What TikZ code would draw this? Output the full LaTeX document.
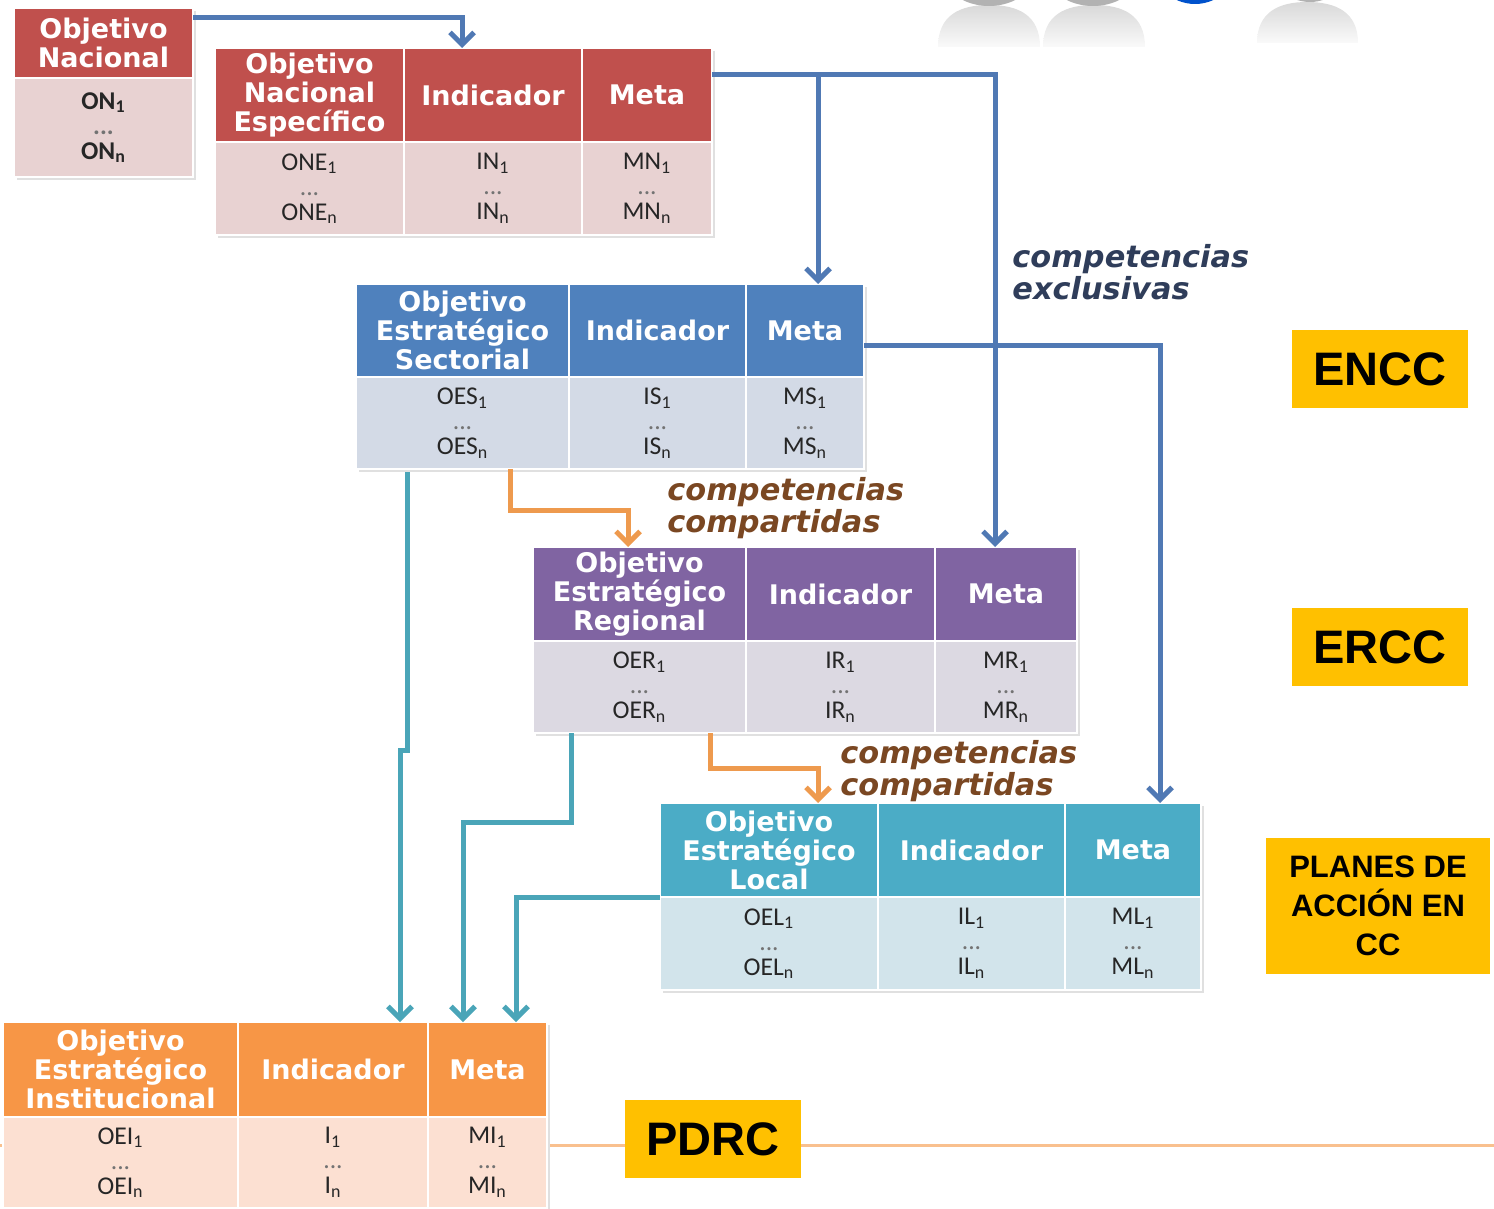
\documentclass[tikz,border=0pt]{standalone}
\usepackage{fontspec}
\usetikzlibrary{arrows.meta,calc}
\newfontfamily\hdrfont{DejaVu Sans}
\newfontfamily\bodyfont{Carlito}
\newfontfamily\lblfont{Liberation Sans}
\definecolor{redH}{HTML}{C0504D}
\definecolor{redB}{HTML}{E8D2D2}
\definecolor{bluH}{HTML}{4F81BD}
\definecolor{bluB}{HTML}{D3DAE6}
\definecolor{purH}{HTML}{8064A2}
\definecolor{purB}{HTML}{DCD9E2}
\definecolor{teaH}{HTML}{4BACC6}
\definecolor{teaB}{HTML}{D2E4EB}
\definecolor{oraH}{HTML}{F79646}
\definecolor{oraB}{HTML}{FCE0D2}
\definecolor{yel}{HTML}{FFC000}
\definecolor{cblue}{HTML}{5079B4}
\definecolor{cteal}{HTML}{4AA5B8}
\definecolor{corange}{HTML}{EE9A4E}
\definecolor{exclc}{HTML}{2F3D5A}
\definecolor{compc}{HTML}{7A4722}
\definecolor{pline}{HTML}{F9C08E}
\newcommand\tcell[7]{\node[#6, minimum width={(#4-#2)*0.5pt}, minimum height={(#5-#3)*0.5pt}] (#1) at ({(#2+#4)/2},{(#3+#5)/2}) {#7};}
\newcommand\tshadow[4]{\fill[black!12] ({#1+3},{#2+3}) rectangle ({#3+3},{#4+3});}
\newcommand\lst[1]{#1\textsubscript{1}\\{\color{black!55}...}\\#1\textsubscript{n}}
\tikzset{
  cellbase/.style={draw=white, line width=1pt, inner sep=0pt, outer sep=0pt, align=center},
  hdr/.style={cellbase, text=white, font={\hdrfont\bfseries\fontsize{13.5}{14.5}\selectfont}},
  bod/.style={cellbase, text=black!85, font={\bodyfont\fontsize{12.8}{12.5}\selectfont}},
  conn/.style={line width=2.5pt, -{Straight Barb[length=6pt,width=12pt]}},
  lbl/.style={fill=yel, inner sep=0pt, align=center, text=black},
  comp/.style={font={\hdrfont\bfseries\itshape\fontsize{15.2}{16}\selectfont}, align=left, anchor=west, inner sep=0pt}
}
\begin{document}
\begin{tikzpicture}[x=0.5pt,y=-0.5pt]
\useasboundingbox (0,0) rectangle (1494,1209);
% decorative silhouettes (top right)
\begin{scope}
\clip (0,0) rectangle (1494,1209);
\shade[top color=black!15, bottom color=black!2] (938,47) .. controls (938,15) and (960,5) .. (989,5) .. controls (1018,5) and (1040,15) .. (1040,47) -- cycle;
\shade[top color=black!15, bottom color=black!2] (1043,47) .. controls (1043,15) and (1065,5) .. (1094,5) .. controls (1123,5) and (1145,15) .. (1145,47) -- cycle;
\shade[top color=black!15, bottom color=black!2] (1257,43) .. controls (1257,12) and (1279,2) .. (1307,2) .. controls (1336,2) and (1358,12) .. (1358,43) -- cycle;
\fill[black!30] (989,-55) circle[radius=61];
\fill[black!30] (1093,-55) circle[radius=61];
\fill[blue!60!cyan!80!black] (1195,-40) circle[radius=44];
\fill[black!30] (1310,-40) circle[radius=42];
\end{scope}
% orange horizontal line
\draw[pline, line width=1.5pt] (0,1145) -- (1494,1145);
% shadows
\tshadow{14}{8}{193}{177}
\tshadow{215}{48}{712}{235}
\tshadow{356}{284}{864}{469}
\tshadow{533}{547}{1077}{733}
\tshadow{660}{803}{1201}{990}
\tshadow{3}{1022}{547}{1208}
% Objetivo Nacional
\tcell{onH}{14}{8}{193}{78}{hdr,fill=redH}{Objetivo\\Nacional}
\tcell{onB}{14}{78}{193}{177}{bod,fill=redB,font={\bodyfont\bfseries\fontsize{12.8}{12.5}\selectfont}}{\lst{ON}}
% ONE table
\tcell{neO}{215}{48}{404}{142}{hdr,fill=redH}{Objetivo\\Nacional\\Específico}
\tcell{neI}{404}{48}{582}{142}{hdr,fill=redH}{Indicador}
\tcell{neM}{582}{48}{712}{142}{hdr,fill=redH}{Meta}
\tcell{neOb}{215}{142}{404}{235}{bod,fill=redB}{\lst{ONE}}
\tcell{neIb}{404}{142}{582}{235}{bod,fill=redB}{\lst{IN}}
\tcell{neMb}{582}{142}{712}{235}{bod,fill=redB}{\lst{MN}}
% Sectorial
\tcell{sO}{356}{284}{569}{377}{hdr,fill=bluH}{Objetivo\\Estratégico\\Sectorial}
\tcell{sI}{569}{284}{746}{377}{hdr,fill=bluH}{Indicador}
\tcell{sM}{746}{284}{864}{377}{hdr,fill=bluH}{Meta}
\tcell{sOb}{356}{377}{569}{469}{bod,fill=bluB}{\lst{OES}}
\tcell{sIb}{569}{377}{746}{469}{bod,fill=bluB}{\lst{IS}}
\tcell{sMb}{746}{377}{864}{469}{bod,fill=bluB}{\lst{MS}}
% Regional
\tcell{rO}{533}{547}{746}{641}{hdr,fill=purH}{Objetivo\\Estratégico\\Regional}
\tcell{rI}{746}{547}{935}{641}{hdr,fill=purH}{Indicador}
\tcell{rM}{935}{547}{1077}{641}{hdr,fill=purH}{Meta}
\tcell{rOb}{533}{641}{746}{733}{bod,fill=purB}{\lst{OER}}
\tcell{rIb}{746}{641}{935}{733}{bod,fill=purB}{\lst{IR}}
\tcell{rMb}{935}{641}{1077}{733}{bod,fill=purB}{\lst{MR}}
% Local
\tcell{lO}{660}{803}{878}{897}{hdr,fill=teaH}{Objetivo\\Estratégico\\Local}
\tcell{lI}{878}{803}{1065}{897}{hdr,fill=teaH}{Indicador}
\tcell{lM}{1065}{803}{1201}{897}{hdr,fill=teaH}{Meta}
\tcell{lOb}{660}{897}{878}{990}{bod,fill=teaB}{\lst{OEL}}
\tcell{lIb}{878}{897}{1065}{990}{bod,fill=teaB}{\lst{IL}}
\tcell{lMb}{1065}{897}{1201}{990}{bod,fill=teaB}{\lst{ML}}
% Institucional
\tcell{iO}{3}{1022}{238}{1117}{hdr,fill=oraH}{Objetivo\\Estratégico\\Institucional}
\tcell{iI}{238}{1022}{428}{1117}{hdr,fill=oraH}{Indicador}
\tcell{iM}{428}{1022}{547}{1117}{hdr,fill=oraH}{Meta}
\tcell{iOb}{3}{1117}{238}{1208}{bod,fill=oraB}{\lst{OEI}}
\tcell{iIb}{238}{1117}{428}{1208}{bod,fill=oraB}{\lst{I}}
\tcell{iMb}{428}{1117}{547}{1208}{bod,fill=oraB}{\lst{MI}}
% level labels
\node[lbl, minimum width=88pt, minimum height=39pt, font={\lblfont\bfseries\fontsize{23.5}{26}\selectfont}] (encc) at (1380,369) {ENCC};
\node[lbl, minimum width=88pt, minimum height=39pt, font={\lblfont\bfseries\fontsize{23.5}{26}\selectfont}] (ercc) at (1380,647) {ERCC};
\node[lbl, minimum width=112pt, minimum height=68pt, font={\lblfont\bfseries\fontsize{15.5}{19.5}\selectfont}] (planes) at (1378,906) {PLANES DE\\ACCIÓN EN\\CC};
\node[lbl, minimum width=88pt, minimum height=39pt, font={\lblfont\bfseries\fontsize{23.5}{26}\selectfont}] (pdrc) at (713,1139) {PDRC};
% competencias labels
\node[comp, text=exclc] (exc) at (1012,272) {competencias\\exclusivas};
\node[comp, text=compc] (cmp1) at (667,508) {competencias\\compartidas};
\node[comp, text=compc] (cmp2) at (840,771) {competencias\\compartidas};
% blue connectors
\draw[conn, cblue] (onH.east |- 0,18) -| (462,0 |- neI.north);
\draw[conn, cblue] (neM.east |- 0,75) -| (995,0 |- rM.north);
\coordinate (br) at (818,75);
\draw[conn, cblue] (br) -- (br |- sM.north);
\draw[conn, cblue] (sM.east |- 0,345) -| (1160,0 |- lM.north);
% orange connectors
\draw[conn, corange] (510,0 |- sOb.south) -- (510,510) -- (628,510) -- (628,0 |- rO.north);
\draw[conn, corange] (710,0 |- rOb.south) -- (710,768) -- (818,768) -- (818,0 |- lO.north);
% teal connectors
\draw[conn, cteal] ([yshift=-1.5pt]407,0 |- sOb.south) -- (407,750) -- (400,750) -- (400,0 |- iI.north);
\draw[conn, cteal] (571,0 |- rOb.south) -- (571,822) -- (463,822) -- (463,0 |- iM.north);
\draw[conn, cteal] (lO.south west) -- (516,0 |- lO.south west) -- (516,0 |- iM.north);
\end{tikzpicture}
\end{document}
